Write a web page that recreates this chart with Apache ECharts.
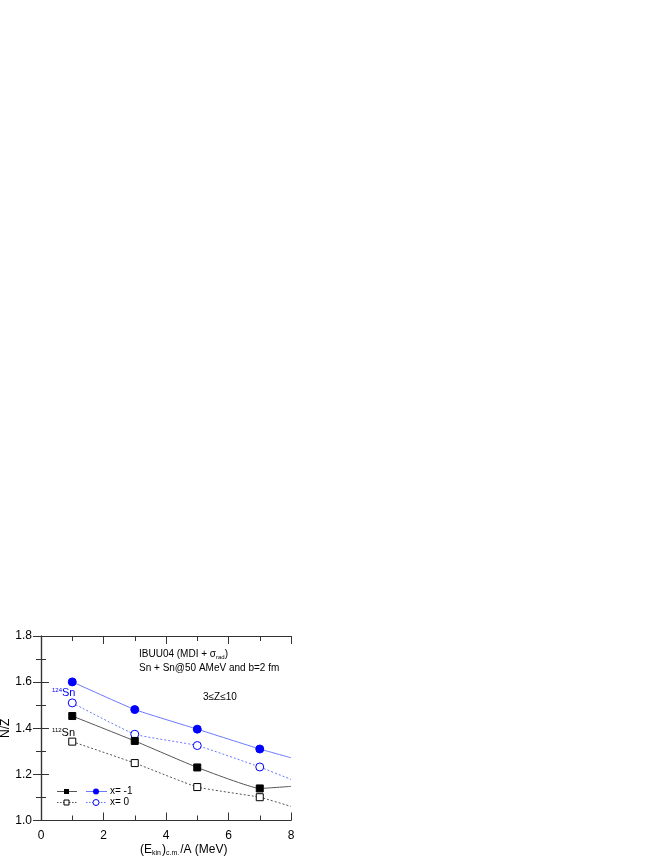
<!DOCTYPE html>
<html>
<head>
<meta charset="utf-8">
<script src="https://cdn.jsdelivr.net/npm/echarts@6/dist/echarts.min.js"></script>
<style>
  html, body { margin: 0; padding: 0; background: #fff; }
  #chart { width: 663px; height: 858px; }
</style>
</head>
<body>
<div id="chart"></div>
<script>
// energies (MeV); last point at x=8 is only the curve's end, no marker
const energies = [1, 3, 5, 7, 8];
const sn124X1 = [1.601, 1.481, 1.396, 1.310, 1.272];
const sn124X0 = [1.510, 1.374, 1.325, 1.232, 1.178];
const sn112X1 = [1.453, 1.345, 1.230, 1.139, 1.148];
const sn112X0 = [1.342, 1.249, 1.145, 1.101, 1.061];
const yTicks = [1.0, 1.2, 1.4, 1.6, 1.8];
const xTicks = [0, 2, 4, 6, 8];

const FONT = "Liberation Sans";
const BLUE = "#0000ff";
const BLUE_LINE = "#6a78ff";
const BLACK = "#000";
const GREY_LINE = "#555";

const chart = echarts.init(document.getElementById("chart"));

const pts = (ys) => energies.map((x, i) => ({
  value: [x, ys[i]],
  symbolSize: i === energies.length - 1 ? 0 : undefined,
}));

function series(name, ys, symbol, filled, color, lineColor, dotted) {
  return {
    name: name,
    type: "line",
    data: pts(ys),
    smooth: 0.12,
    symbol: symbol,
    symbolSize: symbol === "rect" ? 7 : 8,
    showAllSymbol: true,
    z: 3,
    itemStyle: {
      color: filled ? color : "#fff",
      borderColor: color,
      borderWidth: 1,
    },
    lineStyle: {
      color: lineColor,
      width: 1,
      type: dotted ? [2, 2] : "solid",
    },
    emphasis: { disabled: true },
  };
}

const tickStyle = { color: "#333" };

chart.setOption({
  animation: false,
  textStyle: { fontFamily: FONT },
  grid: {
    left: 41, top: 636, width: 250, height: 184.5, show: false,
    containLabel: false, outerBoundsMode: "none",
  },
  xAxis: [
    {
      type: "value", min: 0, max: 8, interval: 2,
      axisLine: { show: true, lineStyle: { color: "#333", width: 1.2 } },
      axisTick: { show: true, inside: true, length: 8, lineStyle: tickStyle },
      minorTick: { show: true, splitNumber: 2, length: 5, lineStyle: tickStyle },
      splitLine: { show: false },
      axisLabel: { fontSize: 12, color: "#000", margin: 9, fontFamily: FONT,
        formatter: (v) => xTicks.includes(v) ? String(v) : "" },
    },
    {
      type: "value", min: 0, max: 8, interval: 2, position: "top",
      axisLine: { show: true, lineStyle: { color: "#333", width: 1.2 } },
      axisTick: { show: true, inside: true, length: 8, lineStyle: tickStyle },
      minorTick: { show: true, splitNumber: 2, length: 5, lineStyle: tickStyle },
      splitLine: { show: false },
      axisLabel: { show: false },
    },
  ],
  yAxis: [
    {
      type: "value", min: 1.0, max: 1.8, interval: 0.2,
      axisLine: { show: true, lineStyle: { color: "#333", width: 1.2 } },
      axisTick: { show: true, inside: true, length: 8, lineStyle: tickStyle },
      minorTick: { show: true, splitNumber: 2, length: 5, lineStyle: tickStyle },
      splitLine: { show: false },
      axisLabel: { fontSize: 12, color: "#000", margin: 9, fontFamily: FONT,
        formatter: (v) => yTicks.some((t) => Math.abs(t - v) < 1e-6) ? v.toFixed(1) : "" },
      name: "N/Z",
      nameLocation: "middle",
      nameGap: 28,
      nameRotate: 90,
      nameTextStyle: { fontSize: 12, color: "#000", fontFamily: FONT },
    },
    {
      type: "value", min: 1.0, max: 1.8, interval: 0.2, position: "right",
      axisLine: { show: true, lineStyle: { color: "#333", width: 1.2 } },
      axisTick: { show: true, inside: true, length: 8, lineStyle: tickStyle },
      minorTick: { show: true, splitNumber: 2, length: 5, lineStyle: tickStyle },
      splitLine: { show: false },
      axisLabel: { show: false },
    },
  ],
  series: [
    series("124Sn x=-1", sn124X1, "circle", true, BLUE, BLUE_LINE, false),
    series("124Sn x=0", sn124X0, "circle", false, BLUE, BLUE_LINE, true),
    series("112Sn x=-1", sn112X1, "rect", true, BLACK, GREY_LINE, false),
    series("112Sn x=0", sn112X0, "rect", false, BLACK, GREY_LINE, true),
  ],
  graphic: [
    {
      type: "text", left: 139, top: 649,
      style: {
        text: "IBUU04 (MDI + {g|σ}{sub|rad})",
        font: "10px " + FONT, fill: "#000",
        rich: {
          g: { fontSize: 10, fontFamily: FONT },
          sub: { fontSize: 6, fontFamily: FONT, verticalAlign: "bottom", padding: [6, 0, 0, 0] },
        },
      },
    },
    {
      type: "text", left: 139, top: 663,
      style: { text: "Sn + Sn@50 AMeV and b=2 fm", font: "10px " + FONT, fill: "#000" },
    },
    {
      type: "text", left: 203, top: 692,
      style: { text: "3≤Z≤10", font: "10px " + FONT, fill: "#000" },
    },
    {
      type: "text", left: 52, top: 687,
      style: {
        text: "{sup|124}Sn", font: "11px " + FONT, fill: BLUE,
        rich: { sup: { fontSize: 6, fill: BLUE, verticalAlign: "top", padding: [0, 0, 6, 0] } },
      },
    },
    {
      type: "text", left: 52, top: 727,
      style: {
        text: "{sup|112}Sn", font: "11px " + FONT, fill: "#000",
        rich: { sup: { fontSize: 6, fill: "#000", verticalAlign: "top", padding: [0, 0, 6, 0] } },
      },
    },
    // legend
    { type: "line", shape: { x1: 57, y1: 791.5, x2: 77, y2: 791.5 }, style: { stroke: GREY_LINE, lineWidth: 1 } },
    { type: "rect", shape: { x: 64, y: 789, width: 5, height: 5 }, style: { fill: BLACK } },
    { type: "line", shape: { x1: 86, y1: 791.5, x2: 107, y2: 791.5 }, style: { stroke: BLUE_LINE, lineWidth: 1 } },
    { type: "circle", shape: { cx: 96, cy: 791.5, r: 3 }, style: { fill: BLUE } },
    { type: "text", left: 110, top: 786, style: { text: "x= -1", font: "10px " + FONT, fill: "#000" } },
    { type: "line", shape: { x1: 57, y1: 802.5, x2: 77, y2: 802.5 }, style: { stroke: GREY_LINE, lineWidth: 1, lineDash: [1.5, 1.5] } },
    { type: "rect", shape: { x: 64, y: 800, width: 5, height: 5 }, style: { fill: "#fff", stroke: BLACK, lineWidth: 1 } },
    { type: "line", shape: { x1: 86, y1: 802.5, x2: 107, y2: 802.5 }, style: { stroke: BLUE_LINE, lineWidth: 1, lineDash: [1.5, 1.5] } },
    { type: "circle", shape: { cx: 96, cy: 802.5, r: 3 }, style: { fill: "#fff", stroke: BLUE, lineWidth: 1 } },
    { type: "text", left: 110, top: 797, style: { text: "x= 0", font: "10px " + FONT, fill: "#000" } },
    // x axis title with subscripts
    {
      type: "text", left: 140, top: 844,
      style: {
        text: "(E{sub|kin}){sub|c.m.}/A (MeV)",
        font: "12px " + FONT, fill: "#000",
        rich: { sub: { fontSize: 7, fill: "#000", verticalAlign: "bottom", padding: [7, 1, 0, 0] } },
      },
    },
  ],
});
</script>
</body>
</html>
